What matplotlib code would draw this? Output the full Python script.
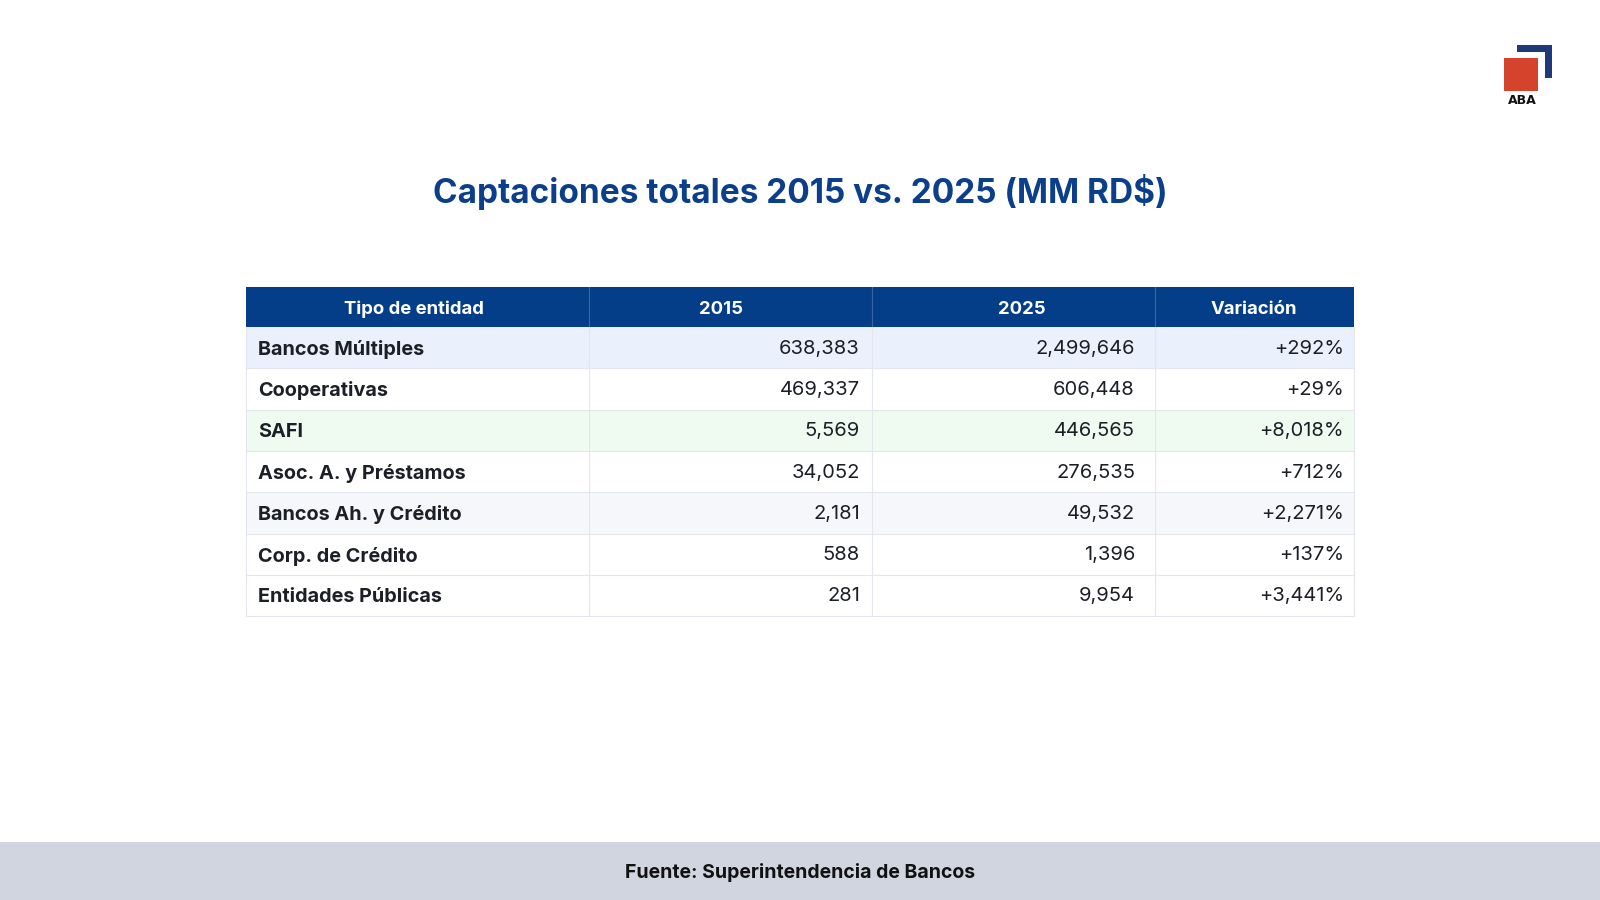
import matplotlib
matplotlib.use("Agg")
import matplotlib.pyplot as plt
from matplotlib.patches import Rectangle

# ---- data ----
entidades = ["Bancos Múltiples", "Cooperativas", "SAFI", "Asoc. A. y Préstamos",
             "Bancos Ah. y Crédito", "Corp. de Crédito", "Entidades Públicas"]
valores_2015 = [638383, 469337, 5569, 34052, 2181, 588, 281]
valores_2025 = [2499646, 606448, 446565, 276535, 49532, 1396, 9954]
variacion = [292, 29, 8018, 712, 2271, 137, 3441]
encabezados = ["Tipo de entidad", "2015", "2025", "Variación"]
titulo = "Captaciones totales 2015 vs. 2025 (MM RD$)"
fuente = "Fuente: Superintendencia de Bancos"

# ---- style ----
NAVY = "#053e88"
TITLE_C = "#0b3f8c"
TEXT_C = "#1c1f26"
row_colors = ["#eaf1fc", "#ffffff", "#effbf1", "#ffffff", "#f5f7fa", "#ffffff", "#ffffff"]
LINE_C = "#e3e6ec"
FONT_B = "Inter"
FONT_R = "Inter"

W, H = 1600, 900
fig = plt.figure(figsize=(16, 9), dpi=100)
fig.patch.set_facecolor("white")
ax = fig.add_axes([0, 0, 1, 1])
ax.set_xlim(0, W)
ax.set_ylim(H, 0)
ax.axis("off")

# title
ax.text(800, 192, titulo, ha="center", va="center", fontsize=24,
        fontweight="bold", color=TITLE_C, family=FONT_B)

# table geometry
col_edges = [246, 589, 872, 1155, 1354]
head_offsets = [-4, -10, 8, -1]
top = 287
head_h = 40
row_h = 41.3

# header
ax.add_patch(Rectangle((col_edges[0], top), col_edges[-1] - col_edges[0], head_h,
                       facecolor=NAVY, edgecolor="none"))
for i, h in enumerate(encabezados):
    cx = (col_edges[i] + col_edges[i + 1]) / 2 + head_offsets[i]
    ax.text(cx, top + head_h / 2 + 2, h, ha="center", va="center", fontsize=13.3,
            fontweight="bold", color="white", family=FONT_B)
for x in col_edges[1:-1]:
    ax.plot([x, x], [top, top + head_h], color="#3a64a3", lw=0.8)

# rows
y0 = top + head_h
pads_right = [12, 20, 10]
for r in range(len(entidades)):
    y = y0 + r * row_h
    ax.add_patch(Rectangle((col_edges[0], y), col_edges[-1] - col_edges[0], row_h,
                           facecolor=row_colors[r], edgecolor="none"))
    ax.plot([col_edges[0], col_edges[-1]], [y + row_h, y + row_h], color=LINE_C, lw=0.8)
    cy = y + row_h / 2
    ax.text(col_edges[0] + 12, cy + 2, entidades[r], ha="left", va="center",
            fontsize=14.3, fontweight="bold", color=TEXT_C, family=FONT_B)
    vals = [f"{valores_2015[r]:,}", f"{valores_2025[r]:,}", f"+{variacion[r]:,}%"]
    for c, v in enumerate(vals):
        ax.text(col_edges[c + 2] - pads_right[c], cy + 1, v, ha="right", va="center",
                fontsize=14.5, color=TEXT_C, family=FONT_R)

bottom = y0 + len(entidades) * row_h
for x in col_edges:
    ax.plot([x, x], [y0, bottom], color=LINE_C, lw=0.8)

# footer band
ax.add_patch(Rectangle((0, 842), W, H - 842, facecolor="#d0d5df", edgecolor="none"))
ax.text(800, 873, fuente, ha="center", va="center", fontsize=14,
        fontweight="bold", color="#111111", family=FONT_B)

# logo
ax.add_patch(Rectangle((1504, 58), 34, 33, facecolor="#d5432d", edgecolor="none"))
ax.add_patch(Rectangle((1517, 45), 35, 7, facecolor="#1f3a78", edgecolor="none"))
ax.add_patch(Rectangle((1545, 45), 7, 33, facecolor="#1f3a78", edgecolor="none"))
ax.text(1522, 101, "ABA", ha="center", va="center", fontsize=9,
        fontweight="bold", color="#111111", family="DejaVu Sans")

fig.savefig("out.png", dpi=100, facecolor="white")
